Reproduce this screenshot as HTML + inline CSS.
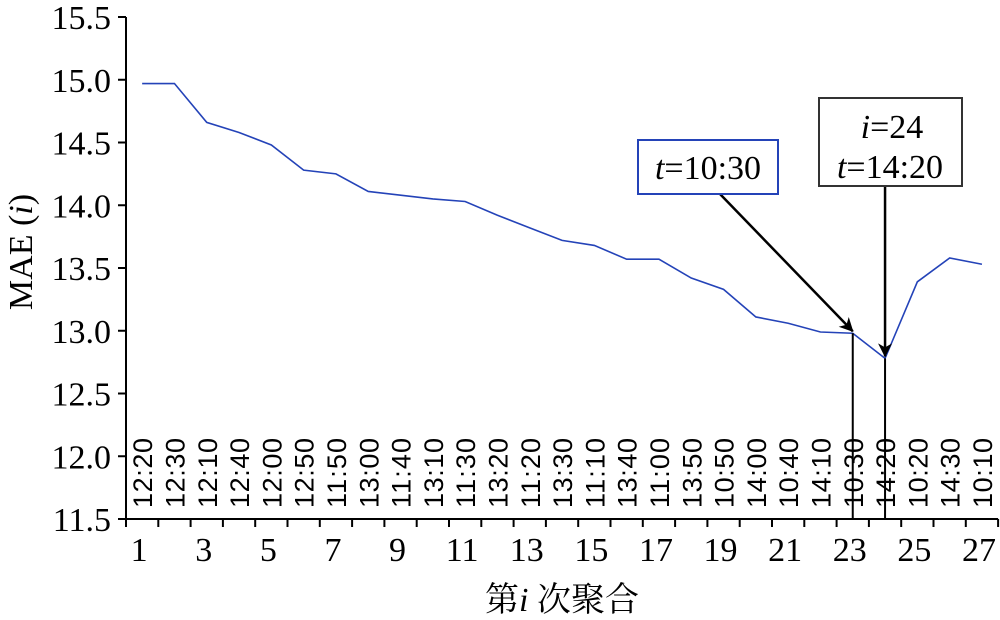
<!DOCTYPE html>
<html><head><meta charset="utf-8"><style>
body{margin:0;background:#fff;}
svg text{font-family:"Liberation Serif","Noto Serif CJK SC",serif;}
</style></head><body>
<svg id="chart" width="1000" height="615" viewBox="0 0 1000 615" xmlns="http://www.w3.org/2000/svg">
<g id="axes"></g>
<g id="marks"></g>
<g id="annot"></g>
</svg>
<script>
const categories=[1,2,3,4,5,6,7,8,9,10,11,12,13,14,15,16,17,18,19,20,21,22,23,24,25,26,27];
const maeValues=[14.97,14.97,14.66,14.58,14.48,14.28,14.25,14.11,14.08,14.05,14.03,13.92,13.82,13.72,13.68,13.57,13.57,13.42,13.33,13.11,13.06,12.99,12.98,12.78,13.39,13.58,13.53];
const timeLabels=["12:20","12:30","12:10","12:40","12:00","12:50","11:50","13:00","11:40","13:10","11:30","13:20","11:20","13:30","11:10","13:40","11:00","13:50","10:50","14:00","10:40","14:10","10:30","14:20","10:20","14:30","10:10"];
const yTicks=["11.5","12.0","12.5","13.0","13.5","14.0","14.5","15.0","15.5"];
const NS="http://www.w3.org/2000/svg";
const X0=126,STEP=32.3,YB=519,YT=17,YMIN=11.5,YMAX=15.5;
const x=i=>X0+(i-0.5)*STEP;
const y=v=>YB-(v-YMIN)/(YMAX-YMIN)*(YB-YT);
function mk(tag,attrs,parent,txt){const e=document.createElementNS(NS,tag);for(const k in attrs)e.setAttribute(k,attrs[k]);if(txt!=null)e.textContent=txt;parent.appendChild(e);return e;}
const axes=document.getElementById('axes'),marks=document.getElementById('marks'),ann=document.getElementById('annot');
let e=mk('line',{x1:X0,y1:YT,x2:X0,y2:YB,stroke:'#000','stroke-width':2},axes);


e=mk('line',{x1:X0,y1:YB,x2:X0+categories.length*STEP,y2:YB,stroke:'#000','stroke-width':2},axes);


yTicks.forEach(t=>{const v=parseFloat(t);const yy=y(v);
 let l=mk('line',{x1:X0-8,y1:yy,x2:X0,y2:yy,stroke:'#000','stroke-width':2},axes);
 
 
 let tx=mk('text',{x:111,y:yy+12,'text-anchor':'end','font-size':34},axes,t);
 
 
});
for(let k=0;k<=categories.length;k++){const xx=X0+k*STEP;
 let l=mk('line',{x1:xx,y1:YB,x2:xx,y2:YB+8,stroke:'#000','stroke-width':2},axes);
 
 }
categories.forEach((c,i)=>{
 if(c%2===1){let tx=mk('text',{x:x(c)-3,y:561,'text-anchor':'middle','font-size':34},axes,String(c));
 
 }
 let tl=mk('text',{transform:`translate(${x(c)+10},508) rotate(-90)`,'font-size':27,'textLength':70,style:'font-family:"Liberation Sans",sans-serif'},axes,timeLabels[i]);
 
 
});
e=mk('text',{transform:'translate(32,252) rotate(-90)','text-anchor':'middle','font-size':34},axes);
e.innerHTML='MAE (<tspan font-style="italic">i</tspan>)';


e=mk('text',{x:562,y:611,'text-anchor':'middle','font-size':34},axes);
e.innerHTML='第<tspan font-style="italic">i</tspan> 次聚合';


const pts=categories.map((c,i)=>x(c)+','+y(maeValues[i])).join(' ');
e=mk('polyline',{points:pts,fill:'none',stroke:'#2443b8','stroke-width':1.6},marks);


const i23=22,i24=23;
mk('defs',{},ann).innerHTML='<marker id="ah" markerWidth="14" markerHeight="14" refX="13" refY="7" orient="auto" markerUnits="userSpaceOnUse" viewBox="0 0 14 14"><path d="M0,0 L14,7 L0,14 L4,7 z" fill="#000"/></marker>';
e=mk('line',{x1:x(23),y1:y(maeValues[i23]),x2:x(23),y2:YB,stroke:'#000','stroke-width':2},ann);


e=mk('line',{x1:x(24),y1:y(maeValues[i24]),x2:x(24),y2:YB,stroke:'#000','stroke-width':2},ann);


e=mk('line',{x1:720,y1:194,x2:x(23),y2:y(maeValues[i23])-2,stroke:'#000','stroke-width':2.5,'marker-end':'url(#ah)'},ann);


e=mk('line',{x1:x(24),y1:186,x2:x(24),y2:y(maeValues[i24])-2,stroke:'#000','stroke-width':2.5,'marker-end':'url(#ah)'},ann);


e=mk('rect',{x:638,y:140,width:140,height:54,fill:'#fff',stroke:'#2443b8','stroke-width':2},ann);


e=mk('text',{x:708,y:179,'text-anchor':'middle','font-size':34},ann);
e.innerHTML='<tspan font-style="italic">t</tspan>=10:30';


e=mk('rect',{x:819,y:98,width:143,height:88,fill:'#fff',stroke:'#333','stroke-width':2},ann);


e=mk('text',{x:892,y:138,'text-anchor':'middle','font-size':34},ann);
e.innerHTML='<tspan font-style="italic">i</tspan>=24';


e=mk('text',{x:890,y:178,'text-anchor':'middle','font-size':34},ann);
e.innerHTML='<tspan font-style="italic">t</tspan>=14:20';


</script>
</body></html>
